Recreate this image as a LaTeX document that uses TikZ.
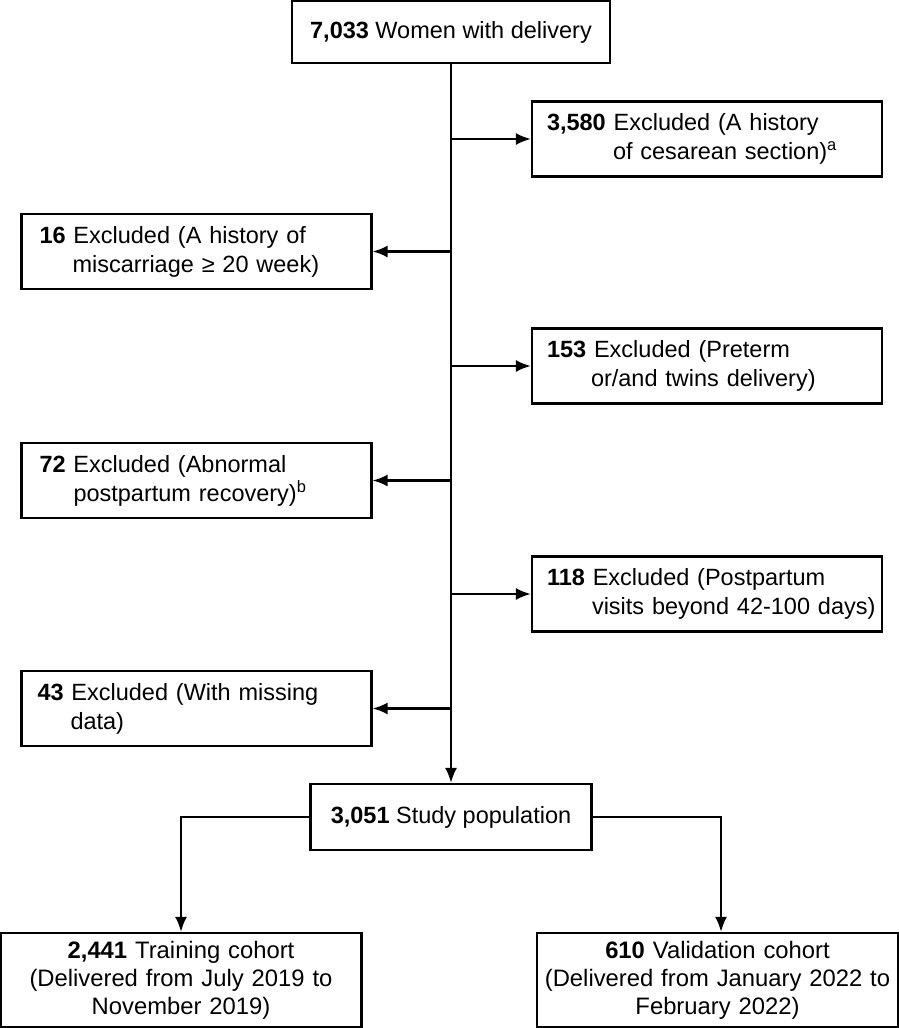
\documentclass[tikz,border=0pt]{standalone}
\usepackage{fontspec}
\setmainfont{Liberation Sans}
\usetikzlibrary{arrows.meta}
\tikzstyle{box} = [rectangle, draw=black, line width=2.2pt, fill=white, font=\fontsize{23.5}{29}\selectfont]
\tikzstyle{exclbox} = [box, minimum height=75pt, text width=338pt, inner xsep=6pt, align=left]
\tikzstyle{cohort} = [box, minimum height=94pt, text width=356pt, inner xsep=2.5pt, align=center, font=\fontsize{23.8}{28}\selectfont]
\tikzstyle{arrow} = [line width=2.2pt, -{Latex[length=15pt,width=12pt]}]

\begin{document}
\begin{tikzpicture}[x=1pt, y=-1pt]
		\useasboundingbox (0,0) rectangle (899,1028);
		\node[box, minimum width=318pt, minimum height=62pt] (women) at (451,32) {\textbf{7,033} Women with delivery};
		\node[exclbox] (cesarean) at (707,139) {\hspace*{9pt}\textbf{3,580} Excluded (A history\\\hspace*{75pt}of cesarean section)\textsuperscript{a}};
		\node[exclbox] (miscarriage) at (196.5,251.5) {\hspace*{12pt}\textbf{16} Excluded (A history of\\\hspace*{45pt}miscarriage ≥ 20 week)};
		\node[exclbox] (preterm) at (707,366) {\hspace*{9pt}\textbf{153} Excluded (Preterm\\\hspace*{53pt}or/and twins delivery)};
		\node[exclbox] (recovery) at (196.5,480.5) {\hspace*{12pt}\textbf{72} Excluded (Abnormal\\\hspace*{46pt}postpartum recovery)\textsuperscript{b}};
		\node[exclbox] (visits) at (707,594) {\hspace*{9pt}\textbf{118} Excluded (Postpartum\\\hspace*{54pt}visits beyond 42-100 days)};
		\node[exclbox] (missing) at (196.5,708.5) {\hspace*{10pt}\textbf{43} Excluded (With missing\\\hspace*{43pt}data)};
		\node[box, minimum width=281pt, minimum height=66pt] (study) at (451,817) {\textbf{3,051} Study population};
		\node[cohort] (training) at (181,980) {\textbf{2,441} Training cohort\\(Delivered from July 2019 to\\November 2019)};
		\node[cohort] (validation) at (717.5,980) {\textbf{610} Validation cohort\\(Delivered from January 2022 to\\February 2022)};

		% main line and exclusions
		\draw[arrow] (women) -- (study);
		\coordinate (c1) at (women.south |- cesarean.west);
		\coordinate (c2) at (women.south |- miscarriage.east);
		\coordinate (c3) at (women.south |- preterm.west);
		\coordinate (c4) at (women.south |- recovery.east);
		\coordinate (c5) at (women.south |- visits.west);
		\coordinate (c6) at (women.south |- missing.east);
		\draw[arrow] (c1) -- (cesarean);
		\draw[arrow] (c2) -- (miscarriage);
		\draw[arrow] (c3) -- (preterm);
		\draw[arrow] (c4) -- (recovery);
		\draw[arrow] (c5) -- (visits);
		\draw[arrow] (c6) -- (missing);

		% split into cohorts
		\draw[arrow] (study.west) -| (training.north);
		\draw[arrow] (study.east) -| ([xshift=3.5pt]validation.north);
	\end{tikzpicture}
\end{document}
